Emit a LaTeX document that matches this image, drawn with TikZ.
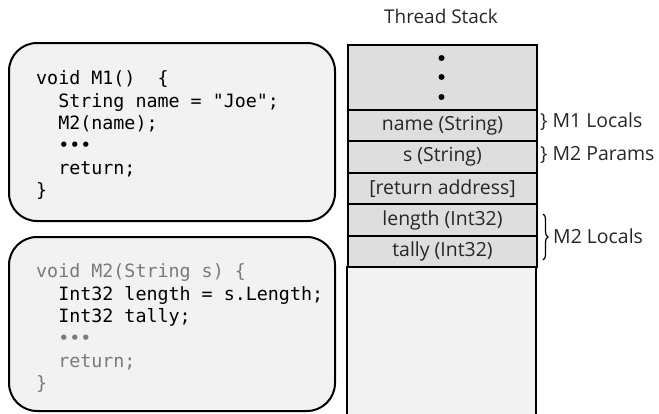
\documentclass[tikz,border=0pt]{standalone}
\usepackage{fontspec}
\setmainfont{Open Sans}
\setmonofont{DejaVu Sans Mono}
\usetikzlibrary{decorations.pathreplacing}
\definecolor{boxfill}{HTML}{F2F2F2}
\definecolor{cellfill}{HTML}{DEDEDE}
\definecolor{codegray}{HTML}{7A7A7A}
\definecolor{labeltext}{HTML}{262626}
\begin{document}
\begin{tikzpicture}[x=1bp,y=-1bp,
  codebox/.style={draw=black,line width=2bp,fill=boxfill,rounded corners=28bp},
  codetext/.style={anchor=north west,inner sep=0pt,align=left,
    font=\ttfamily\fontsize{18.4}{22.5}\selectfont},
  cell/.style={draw=black,line width=2bp,fill=cellfill,minimum width=189bp,
    inner sep=0pt,anchor=north west,text=labeltext,font=\fontsize{19.5}{22}\selectfont},
  sidelabel/.style={anchor=west,inner sep=0pt,text=labeltext,font=\fontsize{19.5}{22}\selectfont},
  stackdot/.style={circle,fill=black,inner sep=0pt,minimum size=6bp}]
\useasboundingbox (0,0) rectangle (659,413);
% code boxes
\draw[codebox] (9,43) rectangle (335,221);
\draw[codebox] (9,237) rectangle (335,411);
\node[codetext] (m1code) at (36,70.5) {void M1()\ \ \{\\
\phantom{xx}String name = "Joe";\\
\phantom{xx}M2(name);\\
\phantom{xx}\textbullet\textbullet\textbullet\\
\phantom{xx}return;\\
\}};
\node[codetext,text=codegray] (m2code) at (36,263.5) {void M2(String s) \{\\
\phantom{xx}\textcolor{black}{Int32 length = s.Length;}\\
\phantom{xx}\textcolor{black}{Int32 tally;}\\
\phantom{xx}\textbullet\textbullet\textbullet\\
\phantom{xx}return;\\
\}};
% thread stack
\node[text=labeltext,font=\fontsize{19}{22}\selectfont] (title) at (441,16) {Thread Stack};
\fill[boxfill] (347,266) rectangle (536,415);
\draw[line width=2bp] (347,266) -- (347,415) (536,266) -- (536,415);
\node[cell,minimum height=65bp] (top) at (347,44) {};
\node[stackdot] (d1) at (441.5,58) {};
\node[stackdot] (d2) at (441.5,77) {};
\node[stackdot] (d3) at (441.5,97) {};
\node[cell,minimum height=31bp] (name) at (347,109) {name (String)};
\node[cell,minimum height=32bp] (s) at (347,140) {s (String)};
\node[cell,minimum height=31bp] (ret) at (347,172) {[return address]};
\node[cell,minimum height=32bp] (len) at (347,203) {length (Int32)};
\node[cell,minimum height=31bp] (tally) at (347,235) {tally (Int32)};
% side labels
\node[sidelabel] (l1) at (540,122) {\} M1 Locals};
\node[sidelabel] (l2) at (540,155) {\} M2 Params};
\coordinate (bt) at ([xshift=5bp,yshift=-11bp]len.north east);
\coordinate (bb) at ([xshift=5bp,yshift=8bp]tally.south east);
\draw[decorate,decoration={brace,amplitude=5bp},line width=1.2bp] (bt) -- (bb);
\node[sidelabel] (l3) at (553,236) {M2 Locals};
\end{tikzpicture}
\end{document}
